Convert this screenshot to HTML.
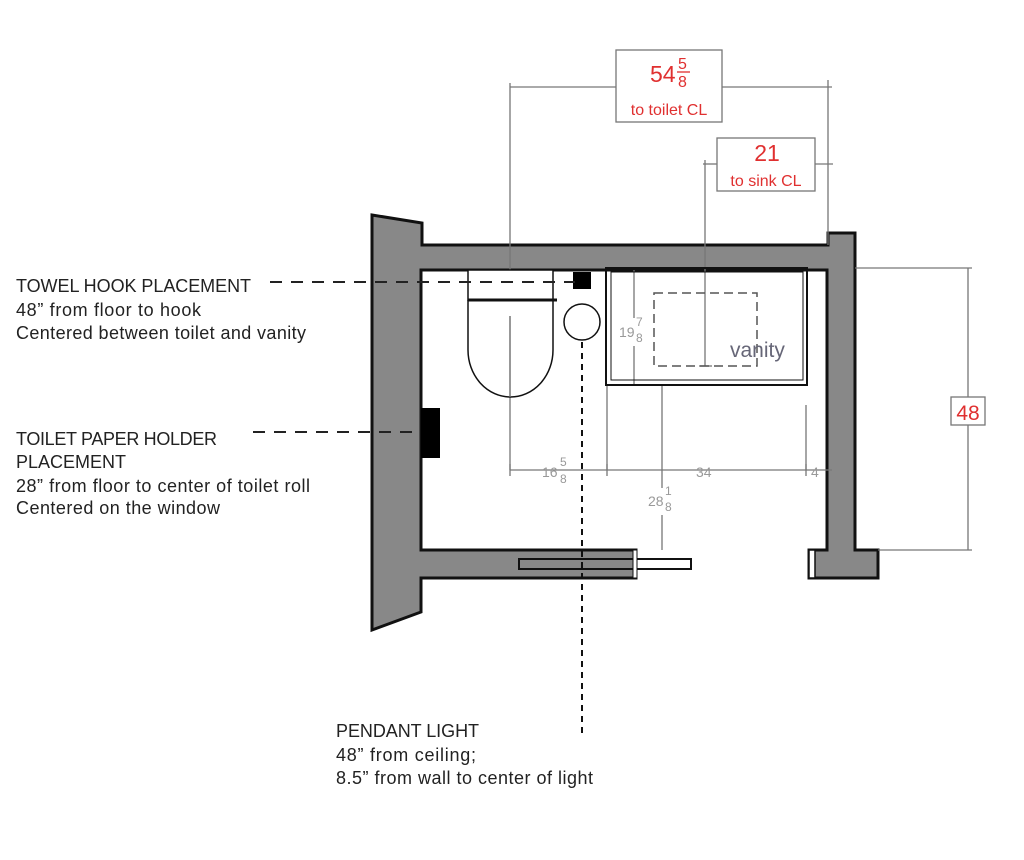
<!DOCTYPE html>
<html><head><meta charset="utf-8"><style>
html,body{margin:0;padding:0;background:#fff;}
svg{display:block;}
text{font-family:"Liberation Sans",sans-serif;}
</style></head><body>
<svg width="1024" height="860" viewBox="0 0 1024 860" xmlns="http://www.w3.org/2000/svg">
<path d="M372,215 L422,223 L422,245 L828,245 L828,233 L855,233 L855,550 L878,550 L878,578 L809,578 L809,550 L827,550 L827,270 L421,270 L421,550 L636,550 L636,578 L421,578 L421,612 L372,630 Z" fill="#888" stroke="#111" stroke-width="3" stroke-linejoin="miter"/>
<rect x="519" y="559" width="117" height="10" fill="#888" stroke="#111" stroke-width="2"/>
<rect x="636" y="559" width="55" height="10" fill="#fff" stroke="#111" stroke-width="2"/>
<rect x="633" y="550" width="4" height="28" fill="#fff" stroke="#111" stroke-width="1"/>
<rect x="809" y="550" width="6" height="28" fill="#fff" stroke="#111" stroke-width="1.5"/>
<g stroke="#777" stroke-width="1.3" fill="none">
<line x1="510" y1="87" x2="616" y2="87"/><line x1="722" y1="87" x2="832" y2="87"/>
<line x1="510" y1="83" x2="510" y2="272"/><line x1="828" y1="80" x2="828" y2="245"/>
<line x1="703" y1="164" x2="717" y2="164"/><line x1="815" y1="164" x2="833" y2="164"/>
<line x1="705" y1="160" x2="705" y2="366"/><line x1="699" y1="366" x2="712" y2="366"/>
<line x1="510" y1="316" x2="510" y2="470"/>
<line x1="510" y1="470" x2="832" y2="470"/>
<line x1="510" y1="464" x2="510" y2="476"/><line x1="607" y1="464" x2="607" y2="476"/><line x1="806" y1="464" x2="806" y2="476"/>
<line x1="607" y1="385" x2="607" y2="470"/><line x1="806" y1="405" x2="806" y2="470"/>
<line x1="662" y1="385" x2="662" y2="488"/><line x1="662" y1="515" x2="662" y2="550"/>
<line x1="634" y1="270" x2="634" y2="318"/><line x1="634" y1="346" x2="634" y2="385"/>
<line x1="855" y1="268" x2="972" y2="268"/><line x1="878" y1="550" x2="972" y2="550"/>
<line x1="968" y1="268" x2="968" y2="397"/><line x1="968" y1="425" x2="968" y2="550"/>
</g>
<rect x="616" y="50" width="106" height="72" fill="#fff" stroke="#777" stroke-width="1.3"/>
<rect x="717" y="138" width="98" height="53" fill="#fff" stroke="#777" stroke-width="1.3"/>
<rect x="951" y="397" width="34" height="28" fill="#fff" stroke="#777" stroke-width="1.3"/>
<g fill="#e03030">
<text x="650" y="82" font-size="23">54</text>
<text x="678" y="69" font-size="16">5</text>
<line x1="677" y1="72" x2="690" y2="72" stroke="#e03030" stroke-width="1.3"/>
<text x="678" y="87" font-size="16">8</text>
<text x="669" y="115" font-size="16" text-anchor="middle">to toilet CL</text>
<text x="767" y="161" font-size="23" text-anchor="middle">21</text>
<text x="766" y="186" font-size="16" text-anchor="middle">to sink CL</text>
<text x="968" y="420" font-size="21" text-anchor="middle">48</text>
</g>
<rect x="468" y="270" width="85" height="30" fill="#fff" stroke="#111" stroke-width="1.5"/>
<line x1="468" y1="300" x2="557" y2="300" stroke="#111" stroke-width="3"/>
<path d="M468,300 L468,350 A42.5,47 0 0 0 553,350 L553,300" fill="none" stroke="#111" stroke-width="1.5"/>
<line x1="510" y1="316" x2="510" y2="397" stroke="#777" stroke-width="1.3"/>
<rect x="573" y="272" width="18" height="17" fill="#000"/>
<circle cx="582" cy="322" r="18" fill="#fff" stroke="#111" stroke-width="1.5"/>
<rect x="606" y="268" width="201" height="117" fill="none" stroke="#111" stroke-width="2"/>
<rect x="611" y="272" width="192" height="108" fill="none" stroke="#111" stroke-width="1"/>
<rect x="654" y="293" width="103" height="73" fill="none" stroke="#555" stroke-width="1.5" stroke-dasharray="9,5"/>
<text x="730" y="357" font-size="21" fill="#667">vanity</text>
<g fill="#999" font-size="14">
<text x="619" y="337">19</text><text x="636" y="326" font-size="12">7</text><text x="636" y="342" font-size="12">8</text>
<text x="542" y="477">16</text><text x="560" y="466" font-size="12">5</text><text x="560" y="483" font-size="12">8</text>
<text x="696" y="477">34</text>
<text x="811" y="477">4</text>
<text x="648" y="506">28</text><text x="665" y="495" font-size="12">1</text><text x="665" y="511" font-size="12">8</text>
</g>
<rect x="421" y="408" width="19" height="50" fill="#000"/>
<line x1="270" y1="282" x2="575" y2="282" stroke="#222" stroke-width="2" stroke-dasharray="12,9"/>
<line x1="253" y1="432" x2="420" y2="432" stroke="#222" stroke-width="2" stroke-dasharray="12,9"/>
<line x1="582" y1="342" x2="582" y2="735" stroke="#111" stroke-width="2" stroke-dasharray="6,5"/>
<g fill="#222" font-size="18">
<text x="16" y="292" textLength="235">TOWEL HOOK PLACEMENT</text>
<text x="16" y="316" textLength="185">48” from floor to hook</text>
<text x="16" y="339" textLength="290">Centered between toilet and vanity</text>
<text x="16" y="445" textLength="201">TOILET PAPER HOLDER</text>
<text x="16" y="468" textLength="110">PLACEMENT</text>
<text x="16" y="492" textLength="294">28” from floor to center of toilet roll</text>
<text x="16" y="514" textLength="204">Centered on the window</text>
<text x="336" y="737" textLength="143">PENDANT LIGHT</text>
<text x="336" y="761" textLength="140">48” from ceiling;</text>
<text x="336" y="784" textLength="257">8.5” from wall to center of light</text>
</g>
</svg>
</body></html>
